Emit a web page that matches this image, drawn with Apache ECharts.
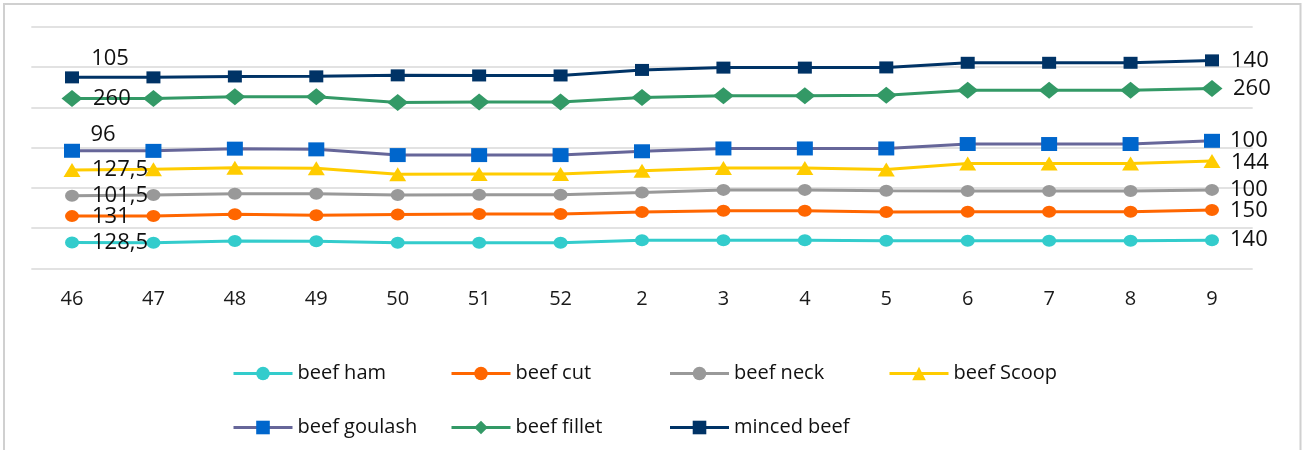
<!DOCTYPE html>
<html>
<head>
<meta charset="utf-8">
<script src="https://cdn.jsdelivr.net/npm/echarts@6/dist/echarts.min.js"></script>
<style>
  html, body { margin: 0; padding: 0; background: #fff; }
  #chart { width: 1303px; height: 450px; }
</style>
</head>
<body>
<div id="chart"></div>
<script>
// Week numbers along the x axis
const weeks = ['46', '47', '48', '49', '50', '51', '52', '2', '3', '4', '5', '6', '7', '8', '9'];

// Weekly prices per cut (stacked lines)
const beefHam     = [128.5, 127.5, 136, 134.5, 126.5, 127, 127, 139, 139.5, 139.5, 137, 137.5, 137.5, 137.5, 140];
const beefCut     = [131, 132.5, 132.5, 129.5, 141, 143, 143, 141.5, 146.5, 146.5, 143.5, 143.5, 143.5, 143.5, 150];
const beefNeck    = [101.5, 104, 102, 106.5, 96.5, 96, 96, 96.5, 104, 104, 105, 104, 104, 104, 100];
const beefScoop   = [127.5, 128, 130, 127, 104, 103, 103, 108.5, 109, 109, 106, 136.5, 136.5, 136.5, 144];
const beefGoulash = [96, 92, 94.5, 94, 95, 94, 94, 96.5, 97, 97, 104.5, 96.5, 96.5, 96.5, 100];
const beefFillet  = [260, 260.5, 258, 262, 261, 264, 264, 268, 262.5, 262.5, 264, 267, 267, 267, 260];
const mincedBeef  = [105, 105, 101, 101, 135.5, 132, 132, 136.5, 139.5, 139.5, 139, 137, 137, 137, 140];

const FONT = '"Open Sans", sans-serif';

// Value labels only on the first and last week of each line
const labelText = p => String(p.value).replace('.', ',');
function endLabels(values, first, last) {
  const n = values.length - 1;
  const base = { show: true, position: 'inside', fontFamily: FONT, fontSize: 22, color: '#111', formatter: labelText };
  return values.map((v, i) => {
    if (i === 0) return { value: v, label: Object.assign({}, base, first) };
    if (i === n) return { value: v, label: Object.assign({}, base, last) };
    return v;
  });
}

const rightOf = (dx, dy) => ({ align: 'left', offset: [dx, dy || 0] });

const seriesDefs = [
  { name: 'beef ham',     data: beefHam,     color: '#33CCCC', symbol: 'circle',   size: [14, 12], first: rightOf(20), last: rightOf(18) },
  { name: 'beef cut',     data: beefCut,     color: '#FF6600', symbol: 'circle',   size: [14, 12], first: rightOf(20, 1), last: rightOf(18, 1) },
  { name: 'beef neck',    data: beefNeck,    color: '#999999', symbol: 'circle',   size: [14, 12], first: rightOf(20), last: rightOf(18) },
  { name: 'beef Scoop',   data: beefScoop,   color: '#FFCC00', symbol: 'triangle', size: [17, 14], first: rightOf(20), last: rightOf(19, 2) },
  { name: 'beef goulash', data: beefGoulash, color: '#666699', marker: '#0066CC', symbol: 'rect', size: [16, 14], first: { align: 'center', offset: [31, -16] }, last: rightOf(18) },
  { name: 'beef fillet',  data: beefFillet,  color: '#339966', symbol: 'diamond',  size: [21, 17], first: rightOf(21), last: rightOf(21) },
  { name: 'minced beef',  data: mincedBeef,  color: '#003366', symbol: 'rect',     size: [14, 12], first: { align: 'center', offset: [38, -19] }, last: rightOf(19) }
];

const series = seriesDefs.map(d => ({
  name: d.name,
  type: 'line',
  stack: 'total',
  data: endLabels(d.data, d.first, d.last),
  symbol: d.symbol,
  symbolSize: d.size,
  showAllSymbol: true,
  lineStyle: { color: d.color, width: 3 },
  itemStyle: { color: d.marker || d.color },
  emphasis: { disabled: true }
}));

// Legend laid out as a grid: four entries on the first row, three on the second
const legendCols = [232, 450, 668.5, 888];
const legendRows = [363.5, 417.5];
const legends = seriesDefs.map((d, i) => ({
  left: legendCols[i % 4],
  top: legendRows[Math.floor(i / 4)],
  padding: 0,
  itemWidth: 59,
  itemHeight: 17,
  lineStyle: { width: 3 },
  data: [d.name],
  textStyle: { fontFamily: FONT, fontSize: 20, color: '#111' }
}));

const chart = echarts.init(document.getElementById('chart'), null, { renderer: 'canvas' });
chart.setOption({
  animation: false,
  backgroundColor: '#fff',
  graphic: [{
    type: 'rect',
    shape: { x: 4, y: 4, width: 1296.5, height: 460 },
    style: { fill: 'none', stroke: '#D0D0D0', lineWidth: 2 },
    silent: true
  }],
  grid: { left: 31.3, right: 50.3, top: 27, bottom: 181.7 },
  legend: legends,
  xAxis: {
    type: 'category',
    data: weeks,
    boundaryGap: true,
    axisLine: { show: false },
    axisTick: { show: false },
    axisLabel: { fontFamily: FONT, fontSize: 20, color: '#1a1a1a', margin: 21 }
  },
  yAxis: {
    type: 'value',
    min: 0,
    max: 1200,
    interval: 200,
    axisLine: { show: false },
    axisTick: { show: false },
    axisLabel: { show: false },
    splitLine: { lineStyle: { color: '#D9D9D9', width: 1.5 } }
  },
  series: series
});
</script>
</body>
</html>
